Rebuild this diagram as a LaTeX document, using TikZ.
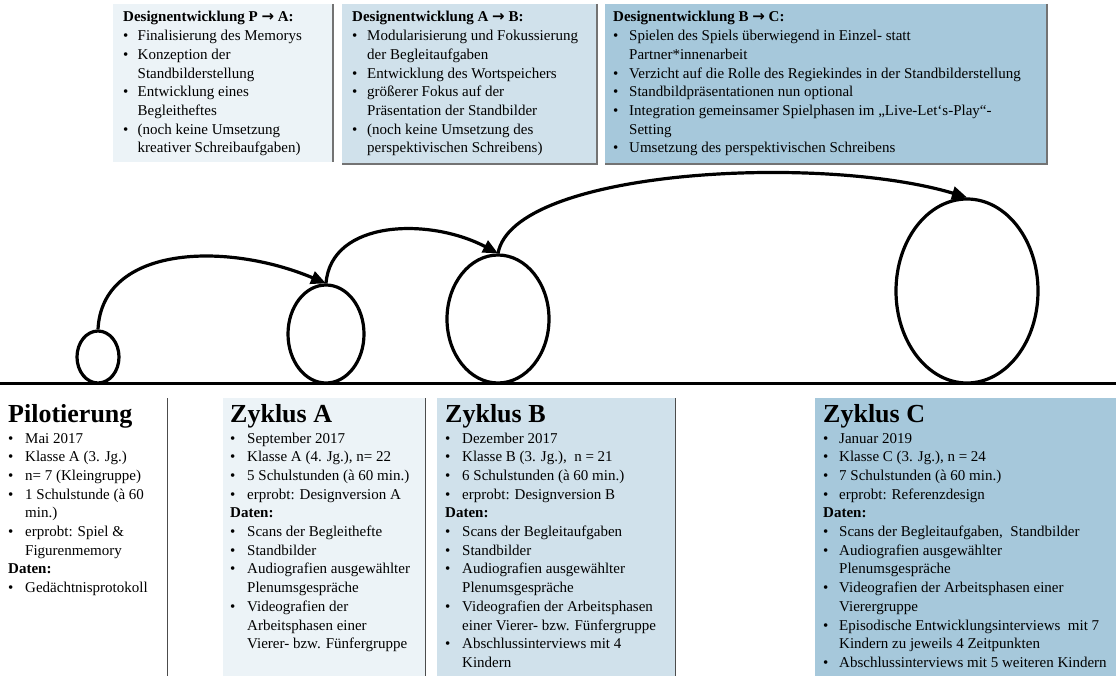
\documentclass[tikz,border=0pt]{standalone}
\usepackage{fontspec}
\setmainfont{Liberation Serif}
\newfontfamily\pfeilschrift{DejaVu Sans}
\usetikzlibrary{shapes.geometric,arrows.meta}

\definecolor{hellblau}{RGB}{236,243,247}
\definecolor{mittelblau}{RGB}{208,225,235}
\definecolor{dunkelblau}{RGB}{166,200,219}

\newlength\einzug
\newcommand{\punkt}{\makebox[\einzug][l]{\textbullet}}
\newcommand{\weiter}{\hspace*{\einzug}}
\newcommand{\nach}{{\pfeilschrift\bfseries →}}

\begin{document}
\begin{tikzpicture}[x={(1pt,0pt)}, y={(0pt,-1pt)},
  >={Triangle[length=15pt,width=13pt]},
  kreis/.style={draw, ellipse, line width=3.2pt, inner sep=0pt},
  pfeil/.style={->, line width=3.2pt},
  liste/.style={anchor=base west, inner sep=0pt, font=\fontsize{15}{18.7}\selectfont},
  schatten/.style={draw=black!55, line width=1.2pt},
  rand/.style={draw=black!70, line width=1pt}]

\useasboundingbox (0,0) rectangle (1116,676);

  % Kästen oben

\fill[hellblau] (113,4) rectangle (333,162);
\fill[mittelblau] (342,4) rectangle (597,164);
\fill[dunkelblau] (605,4) rectangle (1047,164);
\draw[schatten] (333,4) -- (333,162);
\draw[schatten] (597,4) -- (597,164) -- (342,164);
\draw[schatten] (1047,4) -- (1047,164) -- (605,164);

% Kästen unten
\fill[hellblau] (223,398) rectangle (425,676);
\fill[mittelblau] (437,398) rectangle (675,676);
\fill[dunkelblau] (815,398) rectangle (1116,676);
\draw[rand] (167,398) -- (167,676);
\draw[rand] (425,398) -- (425,676);
\draw[rand] (675,398) -- (675,676);

% Texte oben
\node[liste] (dPA) at (123,22) {\setlength\einzug{14.5pt}\begin{tabular}[t]{@{}l@{}}
  \textbf{Designentwicklung P \nach\ A:}\\
  \punkt Finalisierung des Memorys\\
  \punkt Konzeption der\\
  \weiter Standbilderstellung\\
  \punkt Entwicklung eines\\
  \weiter Begleitheftes\\
  \punkt (noch keine Umsetzung\\
  \weiter kreativer Schreibaufgaben)
\end{tabular}};
\node[liste] (dAB) at (352,22) {\setlength\einzug{15pt}\begin{tabular}[t]{@{}l@{}}
  \textbf{Designentwicklung A \nach\ B:}\\
  \punkt Modularisierung und Fokussierung\\
  \weiter der Begleitaufgaben\\
  \punkt Entwicklung des Wortspeichers\\
  \punkt größerer Fokus auf der\\
  \weiter Präsentation der Standbilder\\
  \punkt (noch keine Umsetzung des\\
  \weiter perspektivischen Schreibens)
\end{tabular}};
\node[liste] (dBC) at (613,22) {\setlength\einzug{16pt}\begin{tabular}[t]{@{}l@{}}
  \textbf{Designentwicklung B \nach\ C:}\\
  \punkt Spielen des Spiels überwiegend in Einzel- statt\\
  \weiter Partner*innenarbeit\\
  \punkt Verzicht auf die Rolle des Regiekindes in der Standbilderstellung\\
  \punkt Standbildpräsentationen nun optional\\
  \punkt Integration gemeinsamer Spielphasen im „Live-Let‘s-Play“-\\
  \weiter Setting\\
  \punkt Umsetzung des perspektivischen Schreibens
\end{tabular}};

% Zeitstrahl und Zyklen
\coordinate (L) at (0,383);
\coordinate (R) at (1116,383);
\draw[line width=3pt] (L) -- (R);

\node[kreis, minimum width=42pt, minimum height=52pt] (k0) at (98,357) {};
\node[kreis, minimum width=76pt, minimum height=98pt] (k1) at (326,334) {};
\node[kreis, minimum width=102pt, minimum height=128pt] (k2) at (498,319) {};
\node[kreis, minimum width=142pt, minimum height=184pt] (k3) at (967,291) {};

\draw[pfeil] (k0.north) .. controls +(4,-84) and +(-100,-42) .. (k1.north);
\draw[pfeil] (k1.north) .. controls +(5,-64) and +(-68,-36) .. (k2.north);
\draw[pfeil] (k2.north) .. controls +(15,-84) and +(-147,-44) .. (k3.north);

% Texte unten
\node[liste] (pil) at (8,422) {\setlength\einzug{17pt}\begin{tabular}[t]{@{}l@{}}
  {\fontsize{26}{30}\selectfont\bfseries Pilotierung}\\[2.3pt]
  \punkt Mai 2017\\
  \punkt Klasse A (3. Jg.)\\
  \punkt n= 7 (Kleingruppe)\\
  \punkt 1 Schulstunde (à 60\\
  \weiter min.)\\
  \punkt erprobt: Spiel \&\\
  \weiter Figurenmemory\\
  \textbf{Daten:}\\
  \punkt Gedächtnisprotokoll
\end{tabular}};
\node[liste] (zA) at (230,422) {\setlength\einzug{17pt}\begin{tabular}[t]{@{}l@{}}
  {\fontsize{26}{30}\selectfont\bfseries Zyklus A}\\[2.3pt]
  \punkt September 2017\\
  \punkt Klasse A (4. Jg.), n= 22\\
  \punkt 5 Schulstunden (à 60 min.)\\
  \punkt erprobt: Designversion A\\
  \textbf{Daten:}\\
  \punkt Scans der Begleithefte\\
  \punkt Standbilder\\
  \punkt Audiografien ausgewählter\\
  \weiter Plenumsgespräche\\
  \punkt Videografien der\\
  \weiter Arbeitsphasen einer\\
  \weiter Vierer- bzw. Fünfergruppe
\end{tabular}};
\node[liste] (zB) at (445,422) {\setlength\einzug{17pt}\begin{tabular}[t]{@{}l@{}}
  {\fontsize{26}{30}\selectfont\bfseries Zyklus B}\\[2.3pt]
  \punkt Dezember 2017\\
  \punkt Klasse B (3. Jg.),~ n = 21\\
  \punkt 6 Schulstunden (à 60 min.)\\
  \punkt erprobt: Designversion B\\
  \textbf{Daten:}\\
  \punkt Scans der Begleitaufgaben\\
  \punkt Standbilder\\
  \punkt Audiografien ausgewählter\\
  \weiter Plenumsgespräche\\
  \punkt Videografien der Arbeitsphasen\\
  \weiter einer Vierer- bzw. Fünfergruppe\\
  \punkt Abschlussinterviews mit 4\\
  \weiter Kindern
\end{tabular}};
\node[liste] (zC) at (823,422) {\setlength\einzug{16pt}\begin{tabular}[t]{@{}l@{}}
  {\fontsize{26}{30}\selectfont\bfseries Zyklus C}\\[2.3pt]
  \punkt Januar 2019\\
  \punkt Klasse C (3. Jg.), n = 24\\
  \punkt 7 Schulstunden (à 60 min.)\\
  \punkt erprobt: Referenzdesign\\
  \textbf{Daten:}\\
  \punkt Scans der Begleitaufgaben,~ Standbilder\\
  \punkt Audiografien ausgewählter\\
  \weiter Plenumsgespräche\\
  \punkt Videografien der Arbeitsphasen einer\\
  \weiter Vierergruppe\\
  \punkt Episodische Entwicklungsinterviews~ mit 7\\
  \weiter Kindern zu jeweils 4 Zeitpunkten\\
  \punkt Abschlussinterviews mit 5 weiteren Kindern
\end{tabular}};
\end{tikzpicture}
\end{document}
